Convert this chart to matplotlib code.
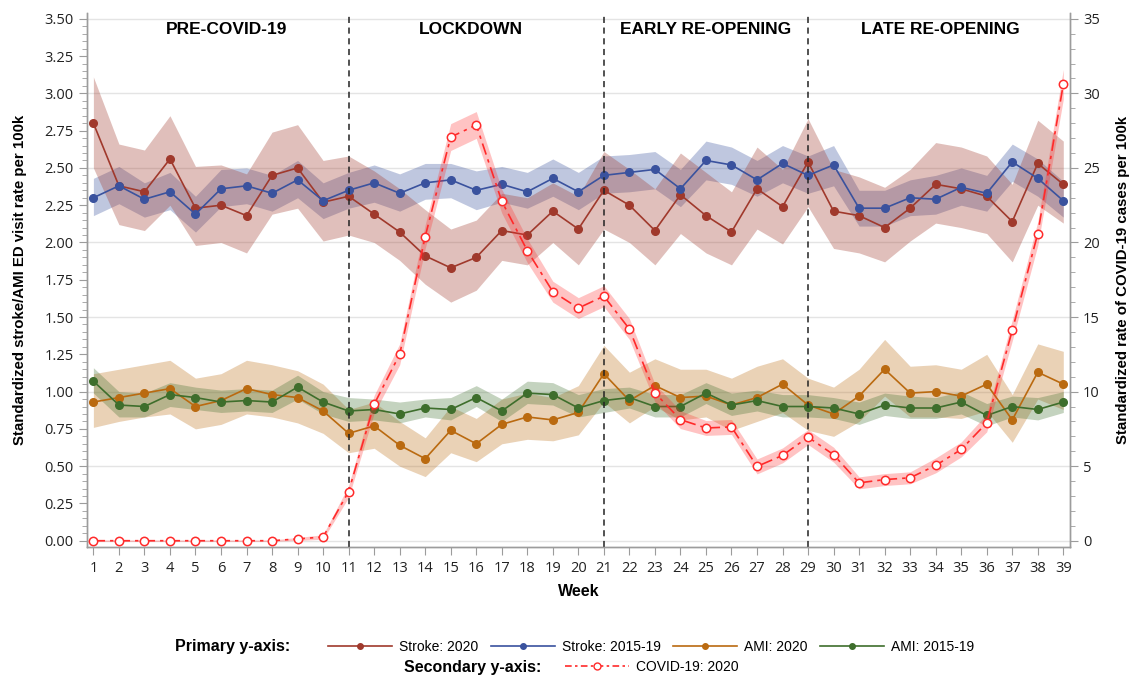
import numpy as np
import matplotlib.pyplot as plt
from matplotlib.lines import Line2D
from matplotlib.ticker import MultipleLocator

plt.rcParams['font.family'] = ['Open Sans', 'DejaVu Sans']

weeks = list(range(1, 40))

stroke_2020 = [2.80, 2.38, 2.34, 2.56, 2.23, 2.25, 2.18, 2.45, 2.50, 2.27, 2.31, 2.19, 2.07, 1.91, 1.83,
               1.90, 2.08, 2.05, 2.21, 2.09, 2.35, 2.25, 2.08, 2.32, 2.18, 2.07, 2.36, 2.24, 2.54, 2.21,
               2.18, 2.10, 2.23, 2.39, 2.36, 2.31, 2.14, 2.53, 2.39]
stroke_2020_hi = [3.11, 2.66, 2.62, 2.85, 2.51, 2.52, 2.46, 2.74, 2.79, 2.55, 2.58, 2.48, 2.36, 2.22, 2.09,
                  2.15, 2.33, 2.30, 2.40, 2.31, 2.61, 2.49, 2.36, 2.60, 2.47, 2.34, 2.64, 2.49, 2.83, 2.49,
                  2.44, 2.37, 2.49, 2.67, 2.64, 2.58, 2.39, 2.82, 2.68]
stroke_2020_lo = [2.50, 2.12, 2.08, 2.25, 1.98, 2.00, 1.93, 2.19, 2.23, 2.01, 2.05, 2.00, 1.88, 1.72, 1.60,
                  1.68, 1.88, 1.85, 2.00, 1.85, 2.09, 2.00, 1.85, 2.06, 1.93, 1.85, 2.09, 1.99, 2.24, 1.96,
                  1.93, 1.87, 2.01, 2.13, 2.10, 2.06, 1.87, 2.25, 2.13]

stroke_hist = [2.30, 2.38, 2.29, 2.34, 2.19, 2.36, 2.38, 2.33, 2.42, 2.28, 2.35, 2.40, 2.33, 2.40, 2.42,
               2.35, 2.39, 2.34, 2.43, 2.34, 2.45, 2.47, 2.49, 2.36, 2.55, 2.52, 2.42, 2.53, 2.45, 2.52,
               2.23, 2.23, 2.30, 2.29, 2.37, 2.33, 2.54, 2.43, 2.28]
stroke_hist_hi = [2.43, 2.51, 2.40, 2.47, 2.31, 2.49, 2.50, 2.45, 2.55, 2.40, 2.47, 2.52, 2.46, 2.53, 2.53,
                  2.48, 2.51, 2.47, 2.56, 2.47, 2.58, 2.59, 2.61, 2.49, 2.68, 2.64, 2.55, 2.65, 2.58, 2.65,
                  2.35, 2.35, 2.42, 2.45, 2.50, 2.45, 2.66, 2.56, 2.41]
stroke_hist_lo = [2.18, 2.26, 2.17, 2.22, 2.07, 2.24, 2.26, 2.21, 2.30, 2.16, 2.23, 2.27, 2.21, 2.29, 2.30,
                  2.22, 2.27, 2.23, 2.31, 2.22, 2.33, 2.34, 2.36, 2.24, 2.42, 2.39, 2.31, 2.40, 2.33, 2.38,
                  2.11, 2.11, 2.18, 2.19, 2.25, 2.21, 2.41, 2.31, 2.17]

ami_2020 = [0.93, 0.96, 0.99, 1.02, 0.90, 0.94, 1.02, 0.98, 0.96, 0.87, 0.72, 0.77, 0.64, 0.55, 0.74,
            0.65, 0.78, 0.83, 0.81, 0.86, 1.12, 0.94, 1.04, 0.96, 0.97, 0.91, 0.96, 1.05, 0.91, 0.85,
            0.97, 1.15, 0.99, 1.00, 0.97, 1.05, 0.81, 1.13, 1.05]
ami_2020_hi = [1.12, 1.15, 1.18, 1.21, 1.09, 1.12, 1.21, 1.18, 1.14, 1.05, 0.88, 0.93, 0.80, 0.69, 0.90,
               0.82, 0.95, 0.99, 0.96, 1.04, 1.31, 1.13, 1.22, 1.15, 1.15, 1.09, 1.17, 1.22, 1.09, 1.03,
               1.15, 1.35, 1.17, 1.18, 1.15, 1.25, 0.98, 1.32, 1.27]
ami_2020_lo = [0.76, 0.80, 0.83, 0.85, 0.75, 0.78, 0.85, 0.83, 0.79, 0.72, 0.59, 0.62, 0.50, 0.43, 0.59,
               0.53, 0.65, 0.68, 0.67, 0.71, 0.93, 0.79, 0.90, 0.81, 0.83, 0.74, 0.80, 0.86, 0.74, 0.70,
               0.80, 0.97, 0.83, 0.83, 0.82, 0.87, 0.66, 0.95, 0.88]

ami_hist = [1.07, 0.91, 0.90, 0.98, 0.96, 0.93, 0.94, 0.93, 1.03, 0.93, 0.87, 0.88, 0.85, 0.89, 0.88,
            0.96, 0.87, 0.99, 0.98, 0.89, 0.94, 0.96, 0.90, 0.90, 0.99, 0.91, 0.94, 0.90, 0.90, 0.89,
            0.85, 0.91, 0.89, 0.89, 0.93, 0.84, 0.90, 0.88, 0.93]
ami_hist_hi = [1.16, 1.00, 0.99, 1.06, 1.03, 1.01, 1.02, 1.01, 1.11, 1.00, 0.96, 0.95, 0.93, 0.95, 0.96,
               1.04, 0.95, 1.07, 1.06, 0.98, 1.02, 1.03, 0.98, 0.98, 1.06, 0.99, 1.01, 0.98, 0.98, 0.96,
               0.93, 0.99, 0.97, 0.96, 1.00, 0.92, 0.97, 0.96, 1.00]
ami_hist_lo = [0.99, 0.83, 0.83, 0.90, 0.88, 0.86, 0.87, 0.86, 0.95, 0.85, 0.80, 0.81, 0.79, 0.83, 0.81,
               0.90, 0.80, 0.92, 0.91, 0.83, 0.86, 0.89, 0.83, 0.83, 0.92, 0.84, 0.87, 0.83, 0.83, 0.82,
               0.78, 0.84, 0.82, 0.82, 0.85, 0.77, 0.83, 0.81, 0.86]

covid_2020 = [0, 0, 0, 0, 0, 0, 0, 0, 0.12, 0.25, 3.30, 9.15, 12.5, 20.4, 27.07, 27.88, 22.77, 19.45,
              16.7, 15.6, 16.4, 14.2, 9.91, 8.12, 7.56, 7.63, 4.98, 5.72, 6.95, 5.77, 3.88, 4.10, 4.22,
              5.05, 6.12, 7.90, 14.1, 20.6, 30.6]
covid_err = [0.05, 0.05, 0.05, 0.05, 0.05, 0.05, 0.05, 0.05, 0.1, 0.15, 0.4, 0.6, 0.7, 0.8, 0.9,
             0.9, 0.8, 0.8, 0.7, 0.7, 0.7, 0.7, 0.6, 0.6, 0.5, 0.5, 0.5, 0.5, 0.5, 0.5, 0.4, 0.4, 0.4,
             0.5, 0.5, 0.6, 0.7, 0.8, 1.0]

period_breaks = [11, 21, 29]
period_names = ["PRE-COVID-19", "LOCKDOWN", "EARLY RE-OPENING", "LATE RE-OPENING"]
period_centers = [6.2, 15.8, 25.0, 34.2]

C_STROKE20 = "#A0392C"
C_STROKEH = "#3A529E"
C_AMI20 = "#BA6A10"
C_AMIH = "#3E6E2C"
C_COVID = "#FF2A2A"
SPINE = "#9c9c9c"

fig = plt.figure(figsize=(11.34, 6.76), dpi=100)
ax = fig.add_axes([0.0765, 0.1913, 0.867, 0.7897])

bands = [
    (stroke_hist_lo, stroke_hist_hi, C_STROKEH, 0.32),
    (stroke_2020_lo, stroke_2020_hi, C_STROKE20, 0.32),
    (ami_2020_lo, ami_2020_hi, C_AMI20, 0.30),
    (ami_hist_lo, ami_hist_hi, C_AMIH, 0.30),
]
for lo, hi, col, a in bands:
    ax.fill_between(weeks, lo, hi, color=col, alpha=a, linewidth=0, zorder=2)

series = [
    (stroke_2020, C_STROKE20, "Stroke: 2020"),
    (stroke_hist, C_STROKEH, "Stroke: 2015-19"),
    (ami_2020, C_AMI20, "AMI: 2020"),
    (ami_hist, C_AMIH, "AMI: 2015-19"),
]
for vals, col, lab in series:
    ax.plot(weeks, vals, color=col, lw=1.2, marker="o", ms=5.5, zorder=4)

for b in period_breaks:
    ax.axvline(b, color="#222222", lw=1.1, ls=(0, (4, 3)), zorder=5)

ax.set_xlim(0.74, 39.26)
ax.set_ylim(-0.04, 3.54)
ax.set_xticks(weeks)
ax.yaxis.set_minor_locator(MultipleLocator(0.05))
ax.set_yticks(np.arange(0, 3.51, 0.25))
ax.set_yticklabels([f"{v:.2f}" for v in np.arange(0, 3.51, 0.25)])
for g in np.arange(0, 3.51, 0.5):
    ax.axhline(g, color="#e4e4e4", lw=1.0, zorder=0)

ax2 = ax.twinx()
ax2.fill_between(weeks, np.array(covid_2020) - np.array(covid_err),
                 np.array(covid_2020) + np.array(covid_err),
                 color=C_COVID, alpha=0.28, linewidth=0, zorder=2)
ax2.plot(weeks, covid_2020, color=C_COVID, lw=1.2, dashes=(7, 3, 2, 3),
         marker="o", ms=6, mfc="white", mec=C_COVID, mew=1.1, zorder=4)
ax2.set_ylim(-0.4, 35.4)
ax2.yaxis.set_major_locator(MultipleLocator(5))
ax2.yaxis.set_minor_locator(MultipleLocator(1))

for a in (ax, ax2):
    a.spines["top"].set_visible(False)
    for s in ("left", "right", "bottom"):
        a.spines[s].set_color(SPINE)
        a.spines[s].set_linewidth(1.0)
    a.tick_params(which="both", color=SPINE, direction="out")
    a.tick_params(which="major", length=6, labelsize=10.5, labelcolor="#222222")
    a.tick_params(which="minor", length=3.5)
ax.tick_params(axis="x", pad=4)

ax.set_ylabel("Standardized stroke/AMI ED visit rate per 100k", fontsize=10.8,
              fontweight="bold", family="Liberation Sans")
ax.yaxis.set_label_coords(-0.061, 0.5)
ax2.set_ylabel("Standardized rate of COVID-19 cases per 100k", fontsize=10.8,
               fontweight="bold", family="Liberation Sans", rotation=90)
ax2.yaxis.set_label_coords(1.047, 0.5)
ax.set_xlabel("Week", fontsize=11.5, fontweight="bold", family="Liberation Sans", labelpad=6)

for name, xc in zip(period_names, period_centers):
    ax.text(xc, 3.43, name, ha="center", va="center", fontsize=12.5,
            fontweight="bold", family="Liberation Sans", zorder=6)

# legend rows
h1 = [Line2D([], [], color=c, lw=1.2, marker="o", ms=4) for _, c, _ in series]
fig.legend(h1, [lab for _, _, lab in series], ncol=4, loc="center",
           bbox_to_anchor=(0.574, 0.043), frameon=False, handlelength=4.6,
           columnspacing=0.9, handletextpad=0.5,
           prop={"family": "Liberation Sans", "size": 10})
h2 = [Line2D([], [], color=C_COVID, lw=1.2, dashes=(4, 2, 1.5, 2), marker="o", ms=5,
             mfc="white", mec=C_COVID)]
fig.legend(h2, ["COVID-19: 2020"], loc="center", bbox_to_anchor=(0.575, 0.013),
           frameon=False, handlelength=4.6, handletextpad=0.5,
           prop={"family": "Liberation Sans", "size": 10})
fig.text(0.256, 0.043, "Primary y-axis:", ha="right", va="center", fontsize=11.5,
         fontweight="bold", family="Liberation Sans")
fig.text(0.477, 0.013, "Secondary y-axis:", ha="right", va="center", fontsize=11.5,
         fontweight="bold", family="Liberation Sans")

fig.savefig("out.png", dpi=100)
